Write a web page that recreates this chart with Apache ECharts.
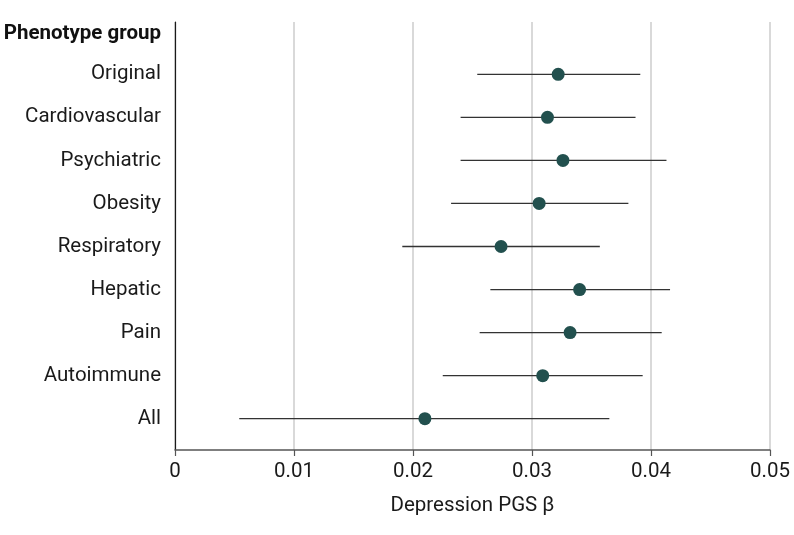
<!DOCTYPE html>
<html>
<head>
<meta charset="utf-8">
<script src="https://cdn.jsdelivr.net/npm/echarts@6/dist/echarts.min.js"></script>
<style>
  html, body { margin: 0; padding: 0; background: #fff; }
  #chart { width: 794px; height: 535px; }
</style>
</head>
<body>
<div id="chart"></div>
<script>
const headerLabel = 'Phenotype group';
const categories = ['Original', 'Cardiovascular', 'Psychiatric', 'Obesity', 'Respiratory', 'Hepatic', 'Pain', 'Autoimmune', 'All'];
const beta  = [0.0322, 0.0313, 0.0326, 0.0306, 0.0274, 0.0340, 0.0332, 0.0309, 0.0210];
const lower = [0.0254, 0.0240, 0.0240, 0.0232, 0.0191, 0.0265, 0.0256, 0.0225, 0.0054];
const upper = [0.0391, 0.0387, 0.0413, 0.0381, 0.0357, 0.0416, 0.0409, 0.0393, 0.0365];
const xTicks = [0, 0.01, 0.02, 0.03, 0.04, 0.05];
const xTitle = 'Depression PGS \u03b2';

const FONT = 'Roboto';
const FS = 20.5;
const chart = echarts.init(document.getElementById('chart'), null, { renderer: 'canvas' });

const ciData = categories.map((c, i) => [lower[i], upper[i], i]);
const ptData = categories.map((c, i) => [beta[i], i]);

chart.setOption({
  animation: false,
  backgroundColor: '#ffffff',
  grid: { left: 175, right: 24, top: 22, bottom: 85, containLabel: false },
  xAxis: {
    type: 'value',
    min: xTicks[0],
    max: xTicks[xTicks.length - 1],
    interval: 0.01,
    name: xTitle,
    nameLocation: 'middle',
    nameGap: 45,
    nameTextStyle: { fontFamily: FONT, fontSize: FS, color: '#1a1a1a' },
    axisLine: { show: true, onZero: false, lineStyle: { color: '#555', width: 1.5 } },
    axisTick: { show: true, length: 6, lineStyle: { color: '#555', width: 1.2 } },
    axisLabel: {
      fontFamily: FONT, fontSize: FS, color: '#1a1a1a', margin: 11,
      formatter: v => String(parseFloat(v.toFixed(4)))
    },
    splitLine: { show: true, lineStyle: { color: '#d9d9d9', width: 2 } }
  },
  yAxis: {
    type: 'value',
    inverse: true,
    min: -1.215,
    max: 8.727,
    axisLine: { show: true, onZero: false, lineStyle: { color: '#1a1a1a', width: 1.2 } },
    axisTick: { show: false },
    splitLine: { show: false },
    axisLabel: {
      show: true,
      customValues: [-0.95, 0, 1, 2, 3, 4, 5, 6, 7, 8],
      margin: 14,
      fontFamily: FONT,
      fontSize: FS,
      color: '#1a1a1a',
      formatter: v => {
        if (v < 0) return '{h|' + headerLabel + '}';
        return categories[Math.round(v)] || '';
      },
      rich: { h: { fontFamily: FONT, fontSize: FS, fontWeight: 'bold', color: '#111' } }
    }
  },
  series: [
    {
      type: 'custom',
      data: ciData,
      encode: { x: [0, 1], y: 2 },
      renderItem: (params, api) => {
        const y = api.value(2);
        const p1 = api.coord([api.value(0), y]);
        const p2 = api.coord([api.value(1), y]);
        return {
          type: 'line',
          shape: { x1: p1[0], y1: p1[1], x2: p2[0], y2: p2[1] },
          style: { stroke: '#333', lineWidth: 1.3 }
        };
      },
      z: 2
    },
    {
      type: 'scatter',
      data: ptData,
      symbol: 'circle',
      symbolSize: 13,
      itemStyle: { color: '#22504e', opacity: 1 },
      z: 3
    }
  ]
});
</script>
</body>
</html>
